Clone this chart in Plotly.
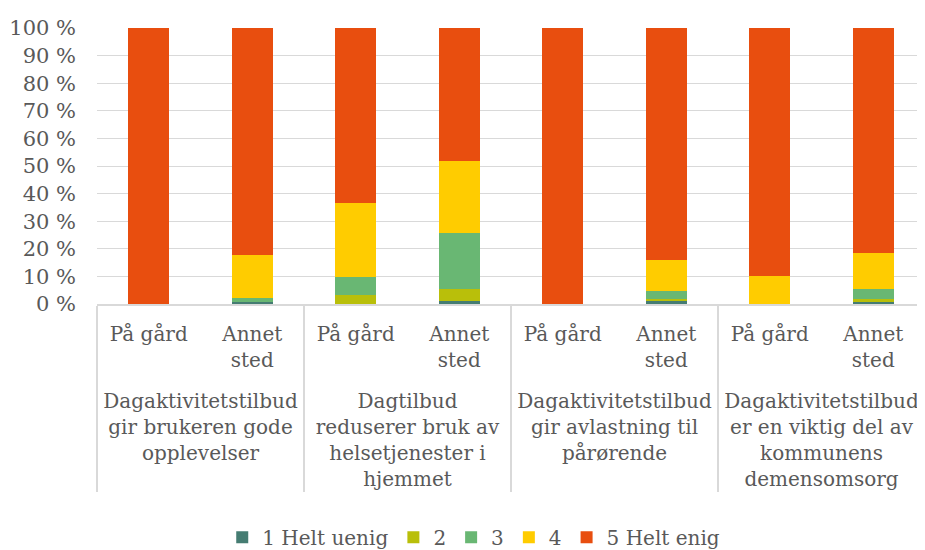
import plotly.graph_objects as go

groups = ["Dagaktivitetstilbud<br>gir brukeren gode<br>opplevelser",
          "Dagtilbud<br>reduserer bruk av<br>helsetjenester i<br>hjemmet",
          "Dagaktivitetstilbud<br>gir avlastning til<br>pårørende",
          "Dagaktivitetstilbud<br>er en viktig del av<br>kommunens<br>demensomsorg"]
places = ["På gård", "Annet<br>sted<br>\u00a0"]

series_names = ["1 Helt uenig", "2", "3", "4", "5 Helt enig"]
colors = ["#457C72", "#B9BF0A", "#69B773", "#FFCC00", "#E84E0F"]

# percent per bar, order: g1 gård, g1 annet, g2 gård, g2 annet, ...
s1 = [0, 0.8, 0, 1.1, 0, 1.2, 0, 0.8]
s2 = [0, 0, 3.2, 4.3, 0, 0.6, 0, 1.0]
s3 = [0, 1.5, 6.5, 20.3, 0, 3.0, 0, 3.6]
s4 = [0, 15.5, 27.0, 26.1, 0, 11.0, 10.0, 13.2]
s5 = [100, 82.2, 63.3, 48.2, 100, 84.2, 90.0, 81.4]

xg = [g for g in groups for _ in places]
xs = [p for _ in groups for p in places]

fig = go.Figure()
for name, col, vals in zip(series_names, colors, [s1, s2, s3, s4, s5]):
    fig.add_trace(go.Bar(x=[xg, xs], y=vals, name=name, marker_color=col,
                         marker_line_width=0))

# page body has an 8px margin, so the figure is drawn 8px smaller
font = "DejaVu Serif"
fig.update_layout(
    barmode="stack", bargap=0.6,
    width=917, height=542,
    margin=dict(l=89, r=0, t=20, b=246, autoexpand=False),
    plot_bgcolor="white", paper_bgcolor="white",
    font=dict(family=font, size=21, color="#595959"),
    legend=dict(orientation="h", x=0.455, xanchor="center", y=-0.845, yanchor="middle",
                font=dict(size=20), traceorder="normal"),
    showlegend=True,
)
fig.update_yaxes(range=[0, 100], dtick=10, ticksuffix=" %", gridcolor="#D9D9D9",
                 gridwidth=1, zeroline=False, showline=False, ticks="",
                 ticklabelstandoff=20, automargin=False)
fig.update_xaxes(type="multicategory", showline=True, linecolor="#D9D9D9", linewidth=2,
                 showdividers=True, dividercolor="#D9D9D9", dividerwidth=2,
                 tickfont=dict(size=20), ticks="", ticklabelstandoff=11,
                 automargin=False)

fig.write_html("out.html")
